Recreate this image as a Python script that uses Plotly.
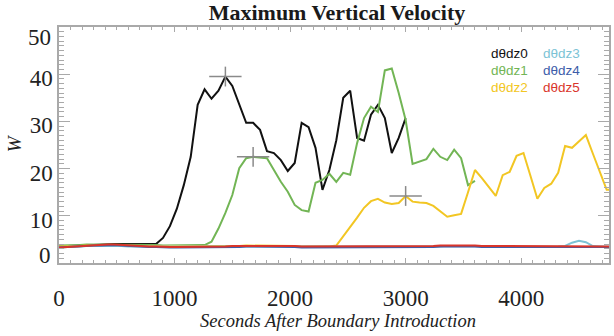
import plotly.graph_objects as go

# Model output sampling times (s)
t = list(range(0, 4801, 60))

# Maximum vertical velocity W for each d(theta)/dz experiment
w_dtdz0 = [3.5, 3.6, 3.6, 3.7, 3.8, 3.8, 3.9, 3.9, 4.0, 4.0,
           4.0, 3.9, 4.0, 4.0, 4.0, 5.3, 7.8, 11.5, 16.5, 22.5,
           33.5, 36.8, 34.8, 36.5, 39.5, 37.5, 33.5, 29.7, 29.7, 28.2,
           23.7, 23.3, 21.8, 19.5, 21.2, 29.7, 28.8, 24.4, 15.5, 19.7,
           26.0, 35.0, 36.5, 26.5, 25.9, 31.4, 33.5, 30.7, 23.3, 26.5,
           30.7]
w_dtdz1 = [3.7, 3.7, 3.8, 3.8, 3.9, 3.9, 3.9, 3.9, 3.9, 3.8,
           3.8, 3.8, 3.8, 3.8, 3.8, 3.7, 3.7, 3.7, 3.7, 3.7,
           3.7, 3.8, 4.5, 7.3, 10.6, 14.4, 20.1, 22.2, 22.5, 22.3,
           22.2, 19.7, 17.2, 15.1, 12.3, 11.2, 10.9, 17.0, 17.6, 18.9,
           17.2, 19.1, 18.7, 25.4, 30.7, 33.1, 32.0, 40.8, 41.2, 36.0,
           30.3, 21.0, 21.5, 22.0, 24.2, 22.5, 21.8, 24.0, 22.2, 16.5,
           17.4]
w_dtdz2 = [3.5, 3.5, 3.6, 3.6, 3.7, 3.7, 3.8, 3.8, 3.8, 3.7,
           3.6, 3.6, 3.5, 3.5, 3.5, 3.5, 3.5, 3.5, 3.5, 3.5,
           3.6, 3.6, 3.6, 3.6, 3.6, 3.6, 3.6, 3.7, 3.7, 3.6,
           3.6, 3.6, 3.6, 3.6, 3.6, 3.5, 3.5, 3.5, 3.5, 3.5,
           3.7, 5.6, 7.5, 9.6, 11.7, 13.1, 13.6, 12.8, 12.5, 12.7,
           14.2, 13.0, 12.8, 12.7, 12.1, 11.0, 9.8, 10.1, 10.4, 15.0,
           19.7, 18.0, 16.1, 14.2, 18.6, 19.3, 22.7, 23.3, 18.5, 13.6,
           15.9, 16.8, 19.1, 24.8, 24.4, 25.8, 27.1, 23.2, 19.3, 15.5,
           15.5]
w_dtdz3 = [3.4, 3.4, 3.5, 3.5, 3.6, 3.6, 3.7, 3.7, 3.7, 3.6,
           3.5, 3.5, 3.4, 3.4, 3.4, 3.4, 3.4, 3.4, 3.4, 3.4,
           3.4, 3.4, 3.4, 3.4, 3.4, 3.5, 3.5, 3.5, 3.5, 3.5,
           3.5, 3.5, 3.5, 3.5, 3.4, 3.4, 3.4, 3.4, 3.4, 3.4,
           3.4, 3.5, 3.5, 3.5, 3.5, 3.5, 3.5, 3.5, 3.5, 3.5,
           3.5, 3.4, 3.4, 3.4, 3.5, 3.5, 3.6, 3.6, 3.6, 3.6,
           3.6, 3.5, 3.5, 3.5, 3.4, 3.4, 3.4, 3.5, 3.5, 3.4,
           3.4, 3.4, 3.5, 3.6, 4.3, 4.7, 4.4, 3.6, 3.5, 3.4,
           3.4]
w_dtdz4 = [3.3, 3.4, 3.5, 3.5, 3.6, 3.7, 3.7, 3.8, 3.8, 3.7,
           3.6, 3.5, 3.5, 3.4, 3.4, 3.3, 3.3, 3.3, 3.3, 3.3,
           3.3, 3.3, 3.3, 3.3, 3.4, 3.4, 3.4, 3.5, 3.5, 3.4,
           3.4, 3.4, 3.4, 3.4, 3.4, 3.3, 3.3, 3.3, 3.3, 3.3,
           3.3, 3.3, 3.4, 3.4, 3.4, 3.4, 3.4, 3.4, 3.4, 3.4,
           3.4, 3.3, 3.3, 3.3, 3.4, 3.5, 3.5, 3.5, 3.6, 3.5,
           3.5, 3.4, 3.4, 3.4, 3.4, 3.4, 3.4, 3.4, 3.4, 3.4,
           3.4, 3.4, 3.4, 3.4, 3.4, 3.4, 3.4, 3.4, 3.5, 3.4,
           3.4]
w_dtdz5 = [3.3, 3.4, 3.5, 3.6, 3.7, 3.8, 3.8, 3.9, 3.9, 3.8,
           3.7, 3.6, 3.6, 3.5, 3.5, 3.4, 3.4, 3.4, 3.4, 3.4,
           3.5, 3.5, 3.5, 3.5, 3.5, 3.6, 3.6, 3.7, 3.7, 3.6,
           3.6, 3.7, 3.7, 3.6, 3.6, 3.5, 3.5, 3.5, 3.5, 3.5,
           3.5, 3.6, 3.6, 3.6, 3.6, 3.6, 3.6, 3.6, 3.6, 3.6,
           3.6, 3.5, 3.5, 3.5, 3.6, 3.7, 3.7, 3.7, 3.8, 3.7,
           3.7, 3.6, 3.6, 3.6, 3.5, 3.5, 3.5, 3.6, 3.6, 3.5,
           3.5, 3.5, 3.6, 3.6, 3.5, 3.5, 3.5, 3.6, 3.6, 3.5,
           3.5]

series_names = ["dθdz0", "dθdz1", "dθdz2", "dθdz3", "dθdz4", "dθdz5"]
series_values = [w_dtdz0, w_dtdz1, w_dtdz2, w_dtdz3, w_dtdz4, w_dtdz5]
series_colors = ["#111111", "#72b555", "#f2c623", "#7cc3d5", "#3d5da9", "#d9352b"]

# Times of the marked first updraft maxima for runs 0, 1 and 2
cross_times = [1440, 1680, 3000]
cross_series = [0, 1, 2]

x_tick_vals = [0, 1000, 2000, 3000, 4000]
y_tick_vals = [0, 10, 20, 30, 40, 50]

X_MAX = 4760
Y_MAX = 50
SERIF = "Liberation Serif"
SANS = "Liberation Sans"
AXIS_GRAY = "#a9a9a9"

fig = go.Figure()

for name, vals, col in zip(series_names, series_values, series_colors):
    fig.add_trace(go.Scatter(
        x=t[:len(vals)], y=vals, mode="lines", name=name,
        line=dict(color=col, width=2), showlegend=False,
    ))

# "+" markers: horizontal arm in seconds, vertical arm in W units
ARM_T, ARM_W = 140, 2.1
cx, cy = [], []
for ct, si in zip(cross_times, cross_series):
    cw = series_values[si][t.index(ct)]
    cx += [ct - ARM_T, ct + ARM_T, None, ct, ct, None]
    cy += [cw, cw, None, cw - ARM_W, cw + ARM_W, None]
fig.add_trace(go.Scatter(x=cx, y=cy, mode="lines", showlegend=False,
                         line=dict(color="#8a8a8a", width=1.5)))

# Legend drawn as coloured text in two columns
L, R, T, B = 59, 3, 27, 73
W, H = 614, 336
pw, ph = W - L - R, H - T - B
legend_cols = [491, 543]
legend_rows = [53, 70, 87]
annotations = []
for i, (name, col) in enumerate(zip(series_names, series_colors)):
    px = legend_cols[i // 3]
    py = legend_rows[i % 3]
    annotations.append(dict(
        text=name, x=(px - L) / pw, y=(H - B - py) / ph,
        xref="paper", yref="paper", xanchor="left", yanchor="middle",
        showarrow=False, font=dict(family=SANS, size=13.5, color=col),
    ))

# End labels of the W axis sit inside the axis span
for val, shift in [(0, 8), (50, -10)]:
    annotations.append(dict(
        text=str(val), x=(53 - L) / pw, y=val, xref="paper", yref="y",
        xanchor="right", yanchor="middle", yshift=shift, showarrow=False,
        font=dict(family=SERIF, size=23, color="#222222"),
    ))

annotations.append(dict(
    text="Seconds After Boundary Introduction", x=(339 - L) / pw,
    y=(H - B - 321) / ph, xref="paper", yref="paper",
    xanchor="center", yanchor="middle", showarrow=False,
    font=dict(family=SERIF, size=18.5, color="#222222", style="italic"),
))
annotations.append(dict(
    text="W", x=(14 - L) / pw, y=(H - B - 143) / ph, xref="paper",
    yref="paper", xanchor="center", yanchor="middle", textangle=-90,
    showarrow=False,
    font=dict(family=SERIF, size=19, color="#222222", style="italic"),
))

fig.update_layout(
    width=W, height=H,
    margin=dict(l=L, r=R, t=T, b=B, pad=0),
    paper_bgcolor="white", plot_bgcolor="white",
    title=dict(text="Maximum Vertical Velocity", x=337 / W, y=1 - 12 / H,
               xanchor="center", yanchor="middle",
               font=dict(family=SERIF, size=22, color="#1a1a1a", weight="bold")),
    annotations=annotations,
    showlegend=False,
)

fig.update_xaxes(
    range=[0, X_MAX], showgrid=False, zeroline=False,
    showline=True, linecolor=AXIS_GRAY, linewidth=1.5, mirror="ticks",
    ticks="inside", ticklen=5, tickcolor=AXIS_GRAY, tickwidth=1,
    tickvals=x_tick_vals, ticktext=[str(v) for v in x_tick_vals],
    ticklabelstandoff=14,
    tickfont=dict(family=SERIF, size=23, color="#222222"),
    minor=dict(ticks="inside", ticklen=3, dtick=100, tickcolor=AXIS_GRAY,
               showgrid=False),
)
fig.update_yaxes(
    range=[0, Y_MAX], showgrid=False, zeroline=False,
    showline=True, linecolor=AXIS_GRAY, linewidth=1.5, mirror="ticks",
    ticks="inside", ticklen=11, tickcolor=AXIS_GRAY, tickwidth=1,
    tickvals=y_tick_vals,
    ticktext=["" if v in (0, Y_MAX) else str(v) for v in y_tick_vals],
    ticklabelshift=4,
    tickfont=dict(family=SERIF, size=23, color="#222222"),
    minor=dict(ticks="inside", ticklen=5, dtick=1, tickcolor=AXIS_GRAY,
               showgrid=False),
)

fig.write_html("out.html")
